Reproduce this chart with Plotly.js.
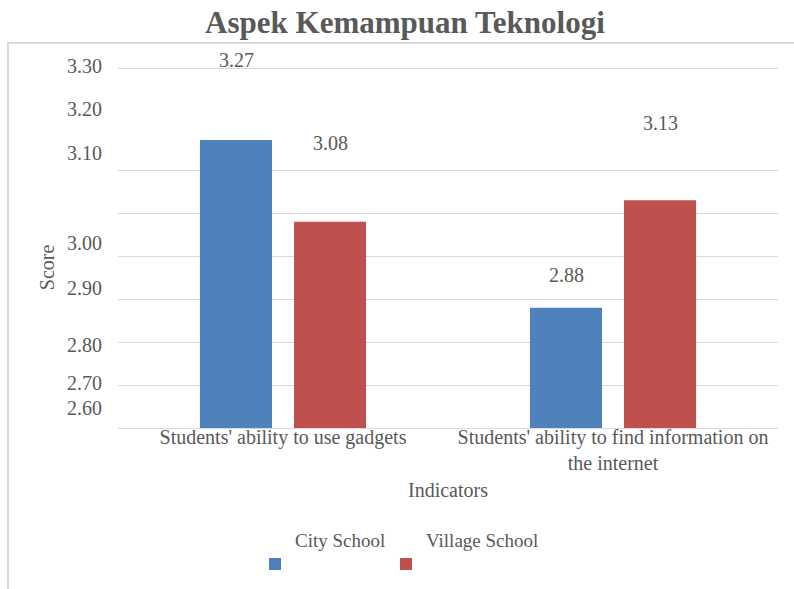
<!DOCTYPE html>
<html><head><meta charset="utf-8">
<script src="https://cdn.plot.ly/plotly-3.0.1.min.js"></script>
<style>
body{margin:0;background:#fff;}
#frame{position:absolute;left:7px;top:42px;width:800px;height:560px;border-left:2px solid #d9d9d9;border-top:2px solid #d9d9d9;pointer-events:none;}
</style>
</head><body>
<div id="chart" style="width:794px;height:589px;"></div>
<div id="frame"></div>
<script>
// ---- data ----
const categories = ["Students' ability to use gadgets", "Students' ability to find information on<br>the internet"];
const seriesNames = ["City School", "Village School"];
const citySchool = [3.27, 2.88];
const villageSchool = [3.08, 3.13];
const yTickLabels = ["3.30", "3.20", "3.10", "3.00", "2.90", "2.80", "2.70", "2.60"];
const chartTitle = "Aspek Kemampuan Teknologi";
const xTitle = "Indicators";
const yTitle = "Score";

// ---- layout / style ----
const FONT = "'Liberation Serif', 'Times New Roman', Times, serif";
const GREY = "#595959";
const colors = ["#4F81BD", "#C0504D"];
const yMin = 2.6, yMax = 3.47;
const gridVals = [2.6, 2.7, 2.8, 2.9, 3.0, 3.1, 3.2, 3.437];
// where the (displaced) tick labels sit in the original chart, in axis units
const yTickLabelPos = [3.442, 3.342, 3.240, 3.030, 2.926, 2.793, 2.705, 2.647];
// where the (displaced) data labels sit, in axis units [city, village] per category
const dataLabelPos = [[3.456, 3.263], [2.956, 3.309]];

const traces = [
  {type: "bar", name: seriesNames[0] + "<br>&nbsp;", x: categories, y: citySchool, marker: {color: colors[0]}, hoverinfo: "y", legend: "legend"},
  {type: "bar", name: seriesNames[1] + "<br>&nbsp;", x: categories, y: villageSchool, marker: {color: colors[1]}, hoverinfo: "y", legend: "legend2"}
];

const annotations = [];
yTickLabels.forEach((t, i) => annotations.push({
  text: t, xref: "paper", yref: "y", x: -0.021, y: yTickLabelPos[i],
  xanchor: "right", yanchor: "middle", showarrow: false,
  font: {family: FONT, size: 20, color: GREY}
}));
[citySchool, villageSchool].forEach((vals, s) => vals.forEach((v, c) => annotations.push({
  text: v.toFixed(2), xref: "x", yref: "y", x: categories[c], y: dataLabelPos[c][s],
  xshift: s === 0 ? -47 : 47, xanchor: "center", yanchor: "middle", showarrow: false,
  font: {family: FONT, size: 20, color: GREY}
})));
annotations.push({text: yTitle, xref: "paper", yref: "paper", x: -0.1076, y: 0.43,
  textangle: -90, showarrow: false, xanchor: "center", yanchor: "middle",
  font: {family: FONT, size: 20, color: GREY}});
annotations.push({text: xTitle, xref: "paper", yref: "paper", x: 0.5, y: -0.166,
  showarrow: false, xanchor: "center", yanchor: "middle",
  font: {family: FONT, size: 20, color: GREY}});

const legendCommon = {orientation: "h", xanchor: "left", y: -0.4158, yanchor: "bottom", valign: "bottom",
  font: {family: FONT, size: 19, color: GREY}, itemclick: false, bgcolor: "rgba(0,0,0,0)"};

const layout = {
  width: 794, height: 589,
  margin: {l: 118, r: 16, t: 54, b: 161, autoexpand: false},
  paper_bgcolor: "#ffffff", plot_bgcolor: "#ffffff",
  title: {text: "<b>" + chartTitle + "</b>", x: 0.51, xanchor: "center", y: 0.963, yanchor: "middle",
    font: {family: FONT, size: 31, color: GREY}},
  barmode: "group", bargap: 0.43, bargroupgap: 0.234,
  showlegend: true,
  legend: Object.assign({}, legendCommon, {x: 0.2076}),
  legend2: Object.assign({}, legendCommon, {x: 0.406}),
  xaxis: {type: "category", showgrid: false, zeroline: false, showline: true, linecolor: "#d9d9d9", linewidth: 1,
    ticks: "", tickfont: {family: FONT, size: 20, color: GREY}, ticklabelstandoff: -9, automargin: false},
  yaxis: {range: [yMin, yMax], tickmode: "array", tickvals: gridVals, showticklabels: false, ticks: "",
    showgrid: true, gridcolor: "#d9d9d9", gridwidth: 1, zeroline: false, showline: false, automargin: false},
  annotations: annotations
};

Plotly.newPlot("chart", traces, layout, {displayModeBar: false, staticPlot: true});
</script>
</body></html>
